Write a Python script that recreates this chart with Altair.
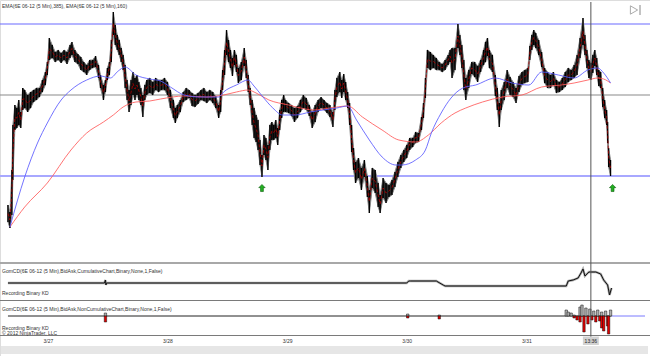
import altair as alt
import pandas as pd

# ---------------- data ----------------
# hours since 3/27 00:00 of each sampled 5-min bar group
HOURS = [-8.10, -7.70, -7.31, -7.11, -6.72, -6.32, -5.93, -5.53, -5.14, -4.74, -4.15, -3.56, -2.96, -2.37, -1.78, -1.19, -0.59, -0.20,
         0.20, 0.79, 1.38, 1.98, 2.57, 3.16, 3.75, 4.35, 4.74, 5.33, 5.93, 6.52, 7.11, 7.70, 8.30, 8.89, 9.48, 10.07, 10.47, 11.06,
         11.46, 11.85, 12.25, 12.64, 13.04, 13.43, 13.83, 14.22, 14.62, 15.01, 15.41, 15.80, 16.20, 16.59, 16.99, 17.38, 17.78,
         18.17, 18.57, 18.96, 19.36, 19.75, 20.35, 20.94, 21.53, 22.12, 22.72, 23.31, 23.90, 24.49, 25.09, 25.48, 25.88, 26.47,
         27.06, 27.65, 28.25, 28.84, 29.43, 30.02, 30.62, 31.21, 31.80, 32.40, 32.99, 33.58, 34.17, 34.57, 34.96, 35.36, 35.75,
         36.15, 36.54, 36.94, 37.33, 37.73, 38.12, 38.72, 39.31, 39.70, 40.10, 40.49, 40.89, 41.28, 41.68, 42.07, 42.47, 42.86,
         43.26, 43.65, 44.05, 44.44, 44.84, 45.23, 45.63, 46.02, 46.42, 46.81, 47.21, 47.60, 48.20, 48.79, 49.38, 49.98, 50.57,
         51.16, 51.75, 52.35, 52.94, 53.53, 54.12, 54.72, 55.31, 55.90, 56.49, 57.09, 57.48, 57.88, 58.47, 58.86, 59.26, 59.65,
         60.05, 60.44, 60.84, 61.23, 61.63, 62.22, 62.81, 63.41, 64.00, 64.40, 64.99, 65.58, 66.17, 66.57, 67.16, 67.75, 68.35,
         68.94, 69.53, 70.12, 70.72, 71.31, 71.90, 72.49, 73.09, 73.68, 74.27, 74.86, 75.26, 75.65, 76.05, 76.64, 77.23, 77.83,
         78.42, 79.01, 79.60, 80.20, 80.59, 80.99, 81.58, 82.17, 82.57, 82.96, 83.36, 83.75, 84.35, 84.94, 85.53, 86.12, 86.72,
         87.31, 87.70, 88.10, 88.49, 89.09, 89.68, 90.07, 90.47, 90.86, 91.46, 92.05, 92.64, 93.23, 93.83, 94.42, 95.01, 95.60,
         96.20, 96.59, 96.99, 97.38, 97.78, 98.37, 98.96, 99.56, 100.15, 100.74, 101.33, 101.93, 102.52, 103.11, 103.70, 104.30,
         104.89, 105.48, 106.07, 106.67, 107.26, 107.65, 108.05, 108.44, 108.84, 109.23, 109.63, 110.02, 110.42, 110.81, 111.21,
         111.60, 112.00, 112.20, 112.40, 112.79]
HIGH = [1.3357, 1.3350, 1.3392, 1.3437, 1.3457, 1.3454, 1.3462, 1.3450, 1.3474, 1.3472, 1.3467, 1.3470, 1.3472, 1.3474, 1.3474, 1.3482, 1.3490, 1.3500,
        1.3524, 1.3517, 1.3510, 1.3512, 1.3509, 1.3512, 1.3510, 1.3517, 1.3520, 1.3512, 1.3508, 1.3505, 1.3500, 1.3497, 1.3502, 1.3502, 1.3506, 1.3497, 1.3487, 1.3477,
        1.3482, 1.3494, 1.3500, 1.3522, 1.3550, 1.3537, 1.3527, 1.3522, 1.3514, 1.3507, 1.3497, 1.3482, 1.3472, 1.3482, 1.3490, 1.3484, 1.3487,
        1.3480, 1.3474, 1.3467, 1.3477, 1.3482, 1.3484, 1.3480, 1.3484, 1.3482, 1.3482, 1.3484, 1.3480, 1.3472, 1.3462, 1.3454, 1.3457, 1.3462,
        1.3470, 1.3474, 1.3472, 1.3469, 1.3467, 1.3469, 1.3472, 1.3474, 1.3470, 1.3472, 1.3470, 1.3466, 1.3457, 1.3472, 1.3492, 1.3512, 1.3532,
        1.3522, 1.3512, 1.3504, 1.3512, 1.3507, 1.3494, 1.3500, 1.3514, 1.3502, 1.3487, 1.3474, 1.3462, 1.3454, 1.3447, 1.3442, 1.3422, 1.3407,
        1.3427, 1.3424, 1.3417, 1.3437, 1.3440, 1.3437, 1.3442, 1.3434, 1.3452, 1.3462, 1.3467, 1.3462, 1.3459, 1.3457, 1.3454, 1.3456, 1.3462,
        1.3467, 1.3464, 1.3457, 1.3450, 1.3457, 1.3462, 1.3465, 1.3462, 1.3459, 1.3457, 1.3450, 1.3472, 1.3484, 1.3490, 1.3482, 1.3488, 1.3480,
        1.3470, 1.3459, 1.3437, 1.3414, 1.3400, 1.3404, 1.3394, 1.3402, 1.3386, 1.3372, 1.3394, 1.3392, 1.3379, 1.3367, 1.3384, 1.3379, 1.3377,
        1.3382, 1.3390, 1.3400, 1.3407, 1.3412, 1.3417, 1.3424, 1.3424, 1.3430, 1.3429, 1.3445, 1.3459, 1.3484, 1.3512, 1.3510, 1.3507, 1.3504,
        1.3500, 1.3498, 1.3502, 1.3507, 1.3512, 1.3514, 1.3514, 1.3538, 1.3527, 1.3517, 1.3502, 1.3484, 1.3492, 1.3500, 1.3500, 1.3496, 1.3502,
        1.3512, 1.3520, 1.3524, 1.3512, 1.3507, 1.3487, 1.3474, 1.3459, 1.3472, 1.3480, 1.3492, 1.3485, 1.3480, 1.3474, 1.3486, 1.3490, 1.3492,
        1.3494, 1.3516, 1.3527, 1.3532, 1.3529, 1.3522, 1.3510, 1.3494, 1.3490, 1.3487, 1.3490, 1.3482, 1.3480, 1.3484, 1.3490, 1.3494,
        1.3492, 1.3497, 1.3507, 1.3524, 1.3544, 1.3527, 1.3512, 1.3502, 1.3499, 1.3507, 1.3512, 1.3504, 1.3492, 1.3490, 1.3474,
        1.3462, 1.3452, 1.3440, 1.3414, 1.3402]
LOW = [1.3340, 1.3334, 1.3347, 1.3382, 1.3432, 1.3434, 1.3437, 1.3434, 1.3452, 1.3454, 1.3450, 1.3454, 1.3460, 1.3462, 1.3465, 1.3470, 1.3477, 1.3487,
       1.3502, 1.3504, 1.3500, 1.3502, 1.3499, 1.3502, 1.3498, 1.3504, 1.3507, 1.3500, 1.3498, 1.3492, 1.3490, 1.3487, 1.3492, 1.3494, 1.3495, 1.3484, 1.3474, 1.3462,
       1.3470, 1.3482, 1.3487, 1.3500, 1.3527, 1.3517, 1.3512, 1.3507, 1.3500, 1.3492, 1.3474, 1.3462, 1.3450, 1.3457, 1.3467, 1.3462, 1.3467,
       1.3462, 1.3457, 1.3445, 1.3462, 1.3467, 1.3469, 1.3467, 1.3472, 1.3470, 1.3472, 1.3472, 1.3467, 1.3454, 1.3444, 1.3439, 1.3444, 1.3450,
       1.3460, 1.3462, 1.3464, 1.3456, 1.3455, 1.3458, 1.3462, 1.3461, 1.3459, 1.3462, 1.3459, 1.3454, 1.3444, 1.3450, 1.3472, 1.3487, 1.3507,
       1.3500, 1.3494, 1.3486, 1.3497, 1.3490, 1.3479, 1.3482, 1.3496, 1.3484, 1.3470, 1.3457, 1.3437, 1.3424, 1.3420, 1.3412, 1.3397, 1.3385,
       1.3407, 1.3402, 1.3392, 1.3412, 1.3422, 1.3422, 1.3424, 1.3417, 1.3432, 1.3444, 1.3450, 1.3450, 1.3449, 1.3446, 1.3440, 1.3444, 1.3450,
       1.3454, 1.3452, 1.3446, 1.3434, 1.3440, 1.3450, 1.3454, 1.3452, 1.3449, 1.3445, 1.3435, 1.3452, 1.3465, 1.3470, 1.3464, 1.3470, 1.3462,
       1.3454, 1.3437, 1.3410, 1.3392, 1.3379, 1.3384, 1.3372, 1.3385, 1.3365, 1.3349, 1.3374, 1.3369, 1.3355, 1.3349, 1.3364, 1.3359, 1.3365,
       1.3367, 1.3375, 1.3385, 1.3394, 1.3400, 1.3404, 1.3412, 1.3415, 1.3419, 1.3420, 1.3432, 1.3444, 1.3464, 1.3494, 1.3492, 1.3494, 1.3492,
       1.3492, 1.3490, 1.3492, 1.3497, 1.3500, 1.3484, 1.3492, 1.3514, 1.3507, 1.3494, 1.3472, 1.3462, 1.3474, 1.3488, 1.3485, 1.3480, 1.3490,
       1.3497, 1.3500, 1.3506, 1.3494, 1.3490, 1.3466, 1.3452, 1.3435, 1.3452, 1.3462, 1.3474, 1.3467, 1.3465, 1.3459, 1.3470, 1.3477, 1.3479,
       1.3480, 1.3502, 1.3512, 1.3517, 1.3514, 1.3507, 1.3495, 1.3479, 1.3474, 1.3474, 1.3477, 1.3469, 1.3470, 1.3472, 1.3475, 1.3480,
       1.3482, 1.3484, 1.3487, 1.3504, 1.3517, 1.3507, 1.3494, 1.3484, 1.3482, 1.3489, 1.3496, 1.3487, 1.3476, 1.3474, 1.3455,
       1.3444, 1.3437, 1.3419, 1.3395, 1.3386]

EMA160_H = [-7.70, -4.74, -2.17, -0.20, 2.57, 4.54, 7.70, 10.47, 12.44, 14.02, 15.41, 17.58, 20.35, 22.52, 24.49, 27.26, 30.42, 34.17,
            35.16, 37.73, 40.10, 41.09, 43.06, 45.04, 47.01, 49.58, 52.54, 55.11, 57.88, 60.05, 61.83, 64.40, 66.96, 69.73, 70.91,
            73.68, 75.65, 76.84, 78.81, 80.79, 83.16, 85.73, 89.68, 93.04, 96.40, 98.96, 102.32, 105.48, 108.25, 110.22, 111.41, 112.79]
EMA160 = [1.3335, 1.3385, 1.3419, 1.3439, 1.3462, 1.3472, 1.3482, 1.3486, 1.3484, 1.3491, 1.3495, 1.3487, 1.3483, 1.3481, 1.3475, 1.3467,
          1.3465, 1.3465, 1.3470, 1.3477, 1.3482, 1.3477, 1.3465, 1.3454, 1.3447, 1.3447, 1.3450, 1.3452, 1.3454, 1.3456, 1.3442, 1.3422,
          1.3405, 1.3397, 1.3397, 1.3402, 1.3412, 1.3429, 1.3449, 1.3464, 1.3474, 1.3477, 1.3484, 1.3479, 1.3477, 1.3490, 1.3487, 1.3484,
          1.3492, 1.3494, 1.3489, 1.3479]
EMA385_H = [-7.70, -4.74, -0.20, 4.54, 7.70, 11.06, 13.04, 15.01, 17.58, 20.35, 22.52, 27.26, 31.80, 35.16, 37.73, 40.10, 41.68, 44.25,
            48.20, 51.56, 53.14, 56.49, 60.05, 63.01, 66.96, 70.32, 73.68, 76.25, 78.81, 81.58, 83.75, 87.11, 91.06, 95.01, 98.96,
            102.91, 105.48, 108.25, 110.22, 111.41, 112.79]
EMA385 = [1.3335, 1.3355, 1.3379, 1.3412, 1.3429, 1.3440, 1.3447, 1.3455, 1.3460, 1.3461, 1.3463, 1.3466, 1.3465, 1.3467, 1.3470, 1.3472,
          1.3469, 1.3462, 1.3457, 1.3453, 1.3452, 1.3454, 1.3456, 1.3445, 1.3432, 1.3422, 1.3420, 1.3427, 1.3439, 1.3449, 1.3454, 1.3460,
          1.3465, 1.3467, 1.3475, 1.3477, 1.3479, 1.3482, 1.3484, 1.3483, 1.3479]

LEVELS = [1.3538, 1.3467, 1.3386]
LEVEL_COLORS = ["#6a6aff", "#8a8a8a", "#a8a8ff"]
LEVEL_WIDTHS = [1.2, 1.2, 2.2]

SIGNAL_H = [42.86, 113.2]
SIGNAL_P = [1.3374, 1.3374]

CUM_H = [-8.10, 11.26, 11.46, 11.56, 11.65, 71.90, 72.30, 72.69, 77.83, 79.21, 79.60, 103.90, 104.30, 105.28, 106.27, 106.86,
         107.26, 107.65, 108.44, 109.83, 110.81, 111.41, 112.20, 112.40, 112.59, 112.99]
CUM = [-100, -100, 200, -300, -100, -100, 100, 100, 100, -300, -400, -400, 100, 200, 400, 900,
       1300, 600, 1000, 1000, 800, 200, -300, -800, -1300, -600]

NC_H = [11.46, 11.46, 72.10, 72.10, 78.42, 78.42, 103.90, 104.30, 104.89, 105.48, 105.48, 106.07, 106.67, 106.67, 107.06, 107.46,
        107.85, 108.25, 108.64, 109.04, 109.43, 109.83, 110.22, 110.62, 111.01, 111.01, 111.41, 111.80, 112.20, 112.40, 112.79]
NC = [300, -600, 200, -200, 100, -300, 600, 400, 300, 100, -200, -400, 900, -600, 1100, -1600,
      800, -800, 700, -400, 500, -600, 600, -500, 400, -1200, -1500, 500, -1000, -1800, 600]

DAY_H = [0, 24, 48, 72, 96]
DAY_LABELS = ["3/27", "3/28", "3/29", "3/30", "3/31"]
CURSOR_H = 108.84
CURSOR_LABEL = "13:36"

TITLE_MAIN = "EMA(6E 06-12 (5 Min),385), EMA(6E 06-12 (5 Min),160)"
TITLE_CUM = "GomCD(6E 06-12 (5 Min),BidAsk,CumulativeChart,Binary,None,1,False)"
TITLE_NC = "GomCD(6E 06-12 (5 Min),BidAsk,NonCumulativeChart,Binary,None,1,False)"
REC = "Recording Binary KD"
COPY = "\u00a9 2012 NinjaTrader, LLC"

FONT = "Liberation Sans"

# ---------------- scales ----------------
XS = alt.Scale(domain=[-8.69, 119.70], nice=False, zero=False)
PY = alt.Scale(domain=[1.3300, 1.3562], range=[262, 0], nice=False, zero=False)
CY = alt.Scale(domain=[-1700, 1700], range=[299, 265], nice=False, zero=False)
NY = alt.Scale(domain=[-1900, 1500], range=[335, 301], nice=False, zero=False)

ARROW = "M-0.4,1 L-0.4,-0.1 L-0.9,-0.1 L0,-1 L0.9,-0.1 L0.4,-0.1 L0.4,1 Z"


def X(f="h"):
    return alt.X(f"{f}:Q", scale=XS, axis=None)


price = pd.DataFrame({"h": HOURS, "hi": HIGH, "lo": LOW})
e160 = pd.DataFrame({"h": EMA160_H, "v": EMA160})
e385 = pd.DataFrame({"h": EMA385_H, "v": EMA385})
lev = pd.DataFrame({"p": LEVELS, "c": LEVEL_COLORS, "w": LEVEL_WIDTHS})
sig = pd.DataFrame({"h": SIGNAL_H, "p": SIGNAL_P})
cum = pd.DataFrame({"h": CUM_H, "v": CUM})
nc = pd.DataFrame({"h": NC_H, "v": NC})
days = pd.DataFrame({"h": DAY_H, "t": DAY_LABELS})
cur = pd.DataFrame({"h": [CURSOR_H], "t": [CURSOR_LABEL]})
one = pd.DataFrame({"k": [0]})


def txt(s, x, y, size=5, color="#333333"):
    return alt.Chart(pd.DataFrame({"t": [s]})).mark_text(
        align="left", baseline="middle", font=FONT, fontSize=size, color=color
    ).encode(text="t:N", x=alt.value(x), y=alt.value(y))


levels = alt.Chart(lev).mark_rule().encode(
    y=alt.Y("p:Q", scale=PY, axis=None),
    color=alt.Color("c:N", scale=None),
    strokeWidth=alt.StrokeWidth("w:Q", scale=None),
)

band = alt.Chart(price).mark_area(color="#2a2a2a", stroke="#8a8a8a", strokeWidth=1.0).encode(
    x=X(), y=alt.Y("lo:Q", scale=PY, axis=None), y2="hi:Q"
)
bars = alt.Chart(price).mark_rule(color="#000000", strokeWidth=1.3).encode(
    x=X(), y=alt.Y("lo:Q", scale=PY, axis=None), y2="hi:Q"
)
mid = alt.Chart(price).transform_calculate(m="(datum.hi + datum.lo) / 2").mark_line(
    color="#b00000", strokeWidth=0.9, opacity=0.9, strokeDash=[3, 2]
).encode(x=X(), y=alt.Y("m:Q", scale=PY, axis=None))

ema_fast = alt.Chart(e160).mark_line(color="#5a5aff", strokeWidth=1, opacity=0.85, interpolate="monotone").encode(
    x=X(), y=alt.Y("v:Q", scale=PY, axis=None)
)
ema_slow = alt.Chart(e385).mark_line(color="#ff5a5a", strokeWidth=1, opacity=0.85, interpolate="monotone").encode(
    x=X(), y=alt.Y("v:Q", scale=PY, axis=None)
)
arrows = alt.Chart(sig).mark_point(shape=ARROW, filled=True, size=50, color="#22b022",
                                   stroke="#0a5a0a", strokeWidth=0.6, opacity=1).encode(
    x=X(), y=alt.Y("p:Q", scale=PY, axis=None)
)

# panel separators
seps = alt.layer(
    alt.Chart(one).mark_rule(color="#a8a8a8", strokeWidth=2).encode(x=alt.value(0), x2=alt.value(650), y=alt.value(263)),
    alt.Chart(one).mark_rule(color="#7a7a7a", strokeWidth=1).encode(x=alt.value(0), x2=alt.value(650), y=alt.value(300.5)),
    alt.Chart(one).mark_rule(color="#7a7a7a", strokeWidth=1).encode(x=alt.value(0), x2=alt.value(650), y=alt.value(335.5)),
)

cum_halo = alt.Chart(cum).mark_line(color="#aaaaaa", strokeWidth=2.4).encode(
    x=X(), y=alt.Y("v:Q", scale=CY, axis=None)
)
cum_line = alt.Chart(cum).mark_line(color="#111111", strokeWidth=1).encode(
    x=X(), y=alt.Y("v:Q", scale=CY, axis=None)
)

nc_base = alt.Chart(pd.DataFrame({"a": [HOURS[0]], "b": [112.99], "v": [0]})).mark_rule(color="#222222", strokeWidth=1).encode(
    x=X("a"), x2="b:Q", y=alt.Y("v:Q", scale=NY, axis=None)
)
nc_tail = alt.Chart(pd.DataFrame({"a": [112.99], "b": [119.7], "v": [0]})).mark_rule(color="#7b7bff", strokeWidth=1).encode(
    x=X("a"), x2="b:Q", y=alt.Y("v:Q", scale=NY, axis=None)
)
nc_bars = alt.Chart(nc).transform_calculate(z="0", c="datum.v < 0 ? '#e00000' : '#b0b0b0'").mark_bar(
    size=2.4, stroke="#111111", strokeWidth=0.5
).encode(
    x=X(), y=alt.Y("v:Q", scale=NY, axis=None), y2="z:Q", color=alt.Color("c:N", scale=None)
)

scroll = alt.Chart(one).mark_rect(color="#e6e6e6").encode(
    x=alt.value(1), x2=alt.value(648), y=alt.value(346), y2=alt.value(354)
)

cursor = alt.Chart(cur).mark_rule(color="#555555", strokeWidth=1).encode(
    x=X(), y=alt.value(2), y2=alt.value(345)
)
cursor_box = alt.Chart(cur).transform_calculate(a="datum.h - 1.6", b="datum.h + 1.6").mark_rect(color="#d2d2d2").encode(
    x=X("a"), x2="b:Q", y=alt.value(336.5), y2=alt.value(345)
)
cursor_txt = alt.Chart(cur).mark_text(font=FONT, fontSize=5, color="#222222", baseline="middle").encode(
    x=X(), y=alt.value(341), text="t:N"
)
day_txt = alt.Chart(days).mark_text(font=FONT, fontSize=5, color="#333333", baseline="middle").encode(
    x=X(), y=alt.value(341), text="t:N"
)

icon_tri = alt.Chart(one).mark_point(shape="triangle-right", filled=False, size=70, color="#888888", strokeWidth=1).encode(
    x=alt.value(634), y=alt.value(10)
)
icon_bar = alt.Chart(one).mark_rule(color="#888888", strokeWidth=1).encode(
    x=alt.value(640), y=alt.value(5), y2=alt.value(15)
)

chart = alt.layer(
    scroll, seps, levels, band, bars, mid, ema_slow, ema_fast, arrows,
    cum_halo, cum_line, nc_base, nc_tail, nc_bars,
    cursor, cursor_box, cursor_txt, day_txt, icon_tri, icon_bar,
    txt(TITLE_MAIN, 2, 6),
    txt(TITLE_CUM, 2, 271),
    txt(REC, 2, 293),
    txt(TITLE_NC, 2, 309),
    txt(REC, 2, 328),
    txt(COPY, 2, 333),
).resolve_scale(y="independent").properties(
    width=650, height=356, autosize=alt.AutoSizeParams(type="none"), padding=0
).configure_view(
    stroke="#ff0000", strokeWidth=3, fill="white"
).configure(background="white")

chart.save("out.html", embed_options={"renderer": "svg", "actions": False})
